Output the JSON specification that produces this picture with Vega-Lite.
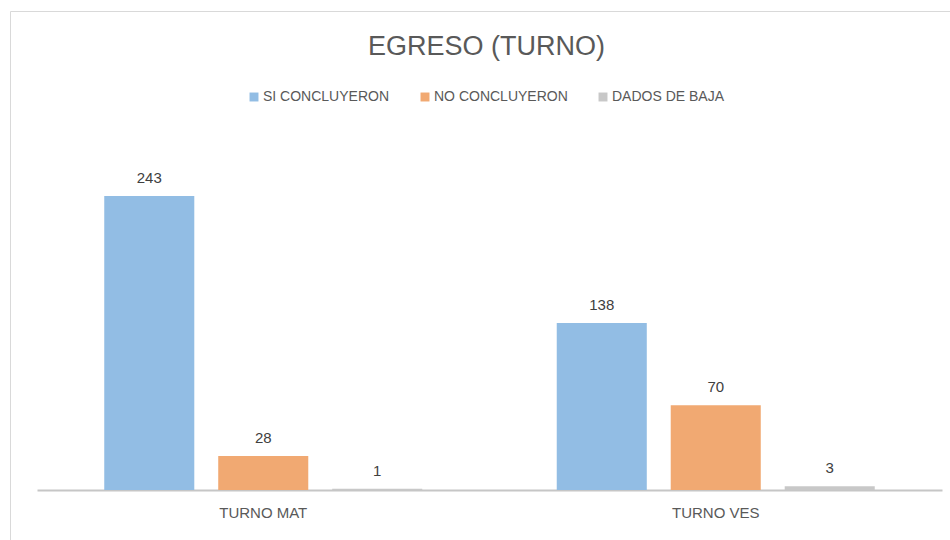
{
  "$schema": "https://vega.github.io/schema/vega-lite/v6.json",
  "width": 940,
  "height": 529,
  "autosize": {"type": "none"},
  "padding": {"left": 10, "top": 11, "right": 0, "bottom": 0},
  "background": "white",
  "config": {"view": {"stroke": "#D9D9D9", "strokeWidth": 1}, "font": "Liberation Sans"},
  "title": {"text": "EGRESO (TURNO)", "fontSize": 27, "font": "Liberation Sans", "fontWeight": "normal", "color": "#595959", "anchor": "middle", "frame": "group", "offset": -71, "baseline": "alphabetic", "dx": 6.5},
  "data": {"values": [
    {"turno": "TURNO MAT", "estado": "SI CONCLUYERON", "n": 243},
    {"turno": "TURNO MAT", "estado": "NO CONCLUYERON", "n": 28},
    {"turno": "TURNO MAT", "estado": "DADOS DE BAJA", "n": 1},
    {"turno": "TURNO VES", "estado": "SI CONCLUYERON", "n": 138},
    {"turno": "TURNO VES", "estado": "NO CONCLUYERON", "n": 70},
    {"turno": "TURNO VES", "estado": "DADOS DE BAJA", "n": 3}
  ]},
  "encoding": {
    "x": {"field": "turno", "type": "nominal", "sort": null,
      "scale": {"range": [27, 932], "paddingInner": 0, "paddingOuter": 0},
      "axis": {"title": null, "orient": "bottom", "offset": -50, "domainColor": "#C6C6C6", "domainWidth": 2, "ticks": false, "labelFontSize": 15, "labelColor": "#595959", "labelPadding": 15, "labelAngle": 0, "labelFont": "Liberation Sans"}},
    "xOffset": {"field": "estado", "type": "nominal", "sort": ["SI CONCLUYERON", "NO CONCLUYERON", "DADOS DE BAJA"],
      "scale": {"paddingInner": 0.21, "paddingOuter": 0.59}},
    "y": {"field": "n", "type": "quantitative", "scale": {"domain": [0, 300], "range": [479, 116], "nice": false}, "axis": null}
  },
  "layer": [
    {"mark": {"type": "bar"},
     "encoding": {"color": {"field": "estado", "type": "nominal",
       "sort": ["SI CONCLUYERON", "NO CONCLUYERON", "DADOS DE BAJA"],
       "scale": {"domain": ["SI CONCLUYERON", "NO CONCLUYERON", "DADOS DE BAJA"], "range": ["#92BDE4", "#F1A972", "#C8C8C8"]},
       "legend": {"orient": "none", "legendX": 237, "legendY": 79, "direction": "horizontal", "title": null, "symbolType": "square", "symbolSize": 80, "symbolStrokeWidth": 0, "labelFontSize": 14, "labelColor": "#595959", "labelFont": "Liberation Sans", "labelOffset": 2, "columnPadding": 28, "labelLimit": 300}}}},
    {"mark": {"type": "text", "baseline": "alphabetic", "dy": -13, "fontSize": 15, "color": "#404040", "font": "Liberation Sans"},
     "encoding": {"text": {"field": "n", "type": "quantitative"}}}
  ]
}
